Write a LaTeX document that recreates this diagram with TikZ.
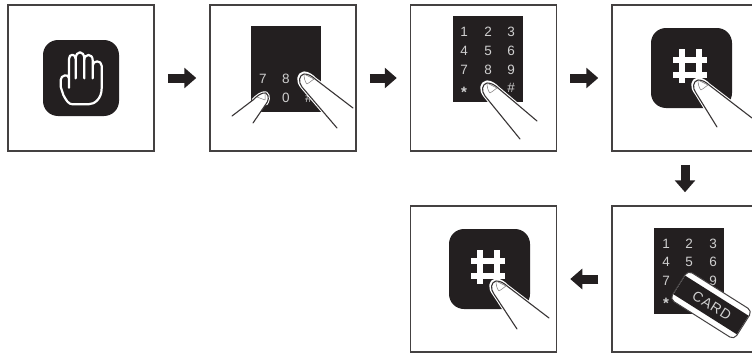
\documentclass[tikz,border=0pt]{standalone}
\usepackage{fontspec}
\setmainfont{Liberation Sans}
\usetikzlibrary{arrows.meta}
\definecolor{ink}{HTML}{231F20}
\definecolor{digit}{HTML}{CFCFCF}
\tikzset{
  x=1pt,y=-1pt,
  panel/.style={draw=ink!85,line width=1.5pt,minimum size=146pt,inner sep=0pt,fill=white},
  blockarrow/.style={draw=ink,line width=9pt,-{Triangle[length=12pt,width=20pt,fill=ink]},shorten <=13pt,shorten >=13pt},
  keydigit/.style={text=digit,font=\fontsize{13.5}{14}\selectfont,inner sep=0pt},
  keystar/.style={text=digit,font=\bfseries\fontsize{15}{15}\selectfont,inner sep=0pt},
  icon/.style={fill=ink,rounded corners=15pt},
  pad/.style={fill=ink},
  hashbar/.style={draw=white,line width=6pt},
  handline/.style={draw=white,line width=2.2pt,line join=round,line cap=round},
  fingerhalo/.style={draw=white,line width=3.2pt,line cap=round,line join=round},
  fingerline/.style={draw=ink!90,line width=1.1pt,line cap=round,line join=round},
}
\newcommand{\fingr}[6]{%
  \begin{scope}[shift={(#1,#2)}]
    \fill[white] (#5,#6) -- (1,11) .. controls (-4,5) and (-3,-2) .. (3,-3) .. controls (7,-3) and (11,0) .. (14,3) -- (#3,#4) -- cycle;
    \draw[fingerhalo] (#5,#6) -- (1,11) .. controls (-4,5) and (-3,-2) .. (3,-3) .. controls (7,-3) and (11,0) .. (14,3) -- (#3,#4);
    \draw[fingerline] (#5,#6) -- (1,11) .. controls (-3,6) and (-2,-1) .. (3,-2) .. controls (7,-2) and (11,0) .. (14,3) -- (#3,#4);
    \draw[ink!60,line width=.5pt,line join=round] (3,-2) -- (13,3) .. controls (10,5) and (8,7) .. (6,8) .. controls (4,6) and (3,2) .. (3,-2);
  \end{scope}}
\newcommand{\hashicon}[3]{%
  \begin{scope}[shift={(#1,#2)}]
    \fill[icon] (0,0) rectangle (81,80);
    \draw[hashbar] (31,21) -- (31,55) (48,21) -- (48,55) (22,32) -- (56,32) (22,47) -- (56,47);
  \end{scope}}
\begin{document}
\begin{tikzpicture}
\useasboundingbox (0,0) rectangle (752,356);
\clip (0,0) rectangle (752,356);
\node[panel] (p1) at (81,78) {};
\node[panel] (p2) at (283,78) {};
\node[panel] (p3) at (483.5,78) {};
\node[panel] (p4) at (685,78) {};
\node[panel] (p5) at (685,279) {};
\node[panel] (p6) at (483.5,279) {};
\draw[blockarrow] (p1.east) -- (p2.west);
\draw[blockarrow] (p2.east) -- (p3.west);
\draw[blockarrow] (p3.east) -- (p4.west);
\draw[blockarrow] (p4.south) -- (p5.north);
\draw[blockarrow] (p5.west) -- (p6.east);

% panel 1: hand
\fill[icon] (43,40) rectangle (119,116);
\begin{scope}[shift={(50,45)},x=.3333pt,y=-.3333pt]
  \draw[handline] (57,128) -- (57,42) .. controls (57,25) and (77,25) .. (77,42) -- (77,100)
    (77,42) .. controls (77,15) and (103,15) .. (103,42) -- (103,100)
    (103,45) .. controls (103,25) and (128,25) .. (128,45) -- (128,100)
    (128,62) .. controls (128,45) and (155,45) .. (155,62) -- (155,130) .. controls (155,160) and (135,178) .. (115,178) -- (68,178) .. controls (55,178) and (48,165) .. (40,150) -- (32,125) -- (32,105) .. controls (32,90) and (57,85) .. (57,100);
\end{scope}

% panel 2
\fill[pad] (251,26) rectangle (321,112);
\foreach \i/\t/\x/\y in {1/7/263/79,2/8/286/79,3/9/309/79,4/0/286/98,5/\#/309/98}
  \node[keydigit] (b\i) at (\x,\y) {\t};
\fingr{301}{76}{52}{32}{36}{52}
\begin{scope}
  \fill[white] (232,116) -- (253,100) .. controls (257,96) and (262,92) .. (266,93) .. controls (270,96) and (268,102) .. (266,104) -- (253,123) -- cycle;
  \draw[fingerhalo] (253,100) .. controls (257,96) and (262,92) .. (266,93) .. controls (270,96) and (268,102) .. (266,104);
  \draw[fingerline] (232,116) -- (253,100) .. controls (257,96) and (262,92) .. (266,93) .. controls (270,96) and (268,102) .. (266,104) -- (253,123);
  \draw[ink!60,line width=.5pt,line join=round] (257,97) -- (265,100) -- (265,94);
\end{scope}

% panel 3
\fill[pad] (453,16) rectangle (523,102);
\foreach \i/\t/\x/\y in {1/1/464/32,2/2/488/32,3/3/511/32,4/4/464/51,5/5/488/51,6/6/511/51,7/7/464/70,8/8/488/70,9/9/511/70,11/0/488/88,12/\#/511/88}
  \node[keydigit] (c\i) at (\x,\y) {\t};
\node[keystar] (c10) at (464,92) {*};
\fingr{484}{85}{53}{36}{36}{54}

% panel 4
\hashicon{651}{28}{}
\fingr{695}{82}{57}{36}{22}{45}

% panel 5
\fill[pad] (654,228) rectangle (724,314);
\foreach \i/\t/\x/\y in {1/1/666/244,2/2/689/244,3/3/713/244,4/4/666/262,5/5/689/262,6/6/713/262,7/7/666/281,8/8/689/281,9/9/713/281}
  \node[keydigit] (d\i) at (\x,\y) {\t};
\node[keystar] (d10) at (666,303) {*};
\begin{scope}[shift={(711,305)},rotate=-32.3]
  \fill[white,rounded corners=5pt] (-38,-17) rectangle (38,17);
  \fill[ink] (-37.5,-11) rectangle (37.5,11);
  \draw[ink!85,line width=1pt,rounded corners=5pt] (-38,-17) rectangle (38,17);
  \node[transform shape,text=digit,inner sep=0pt,font=\fontsize{14}{15}\selectfont\addfontfeature{LetterSpace=8}] (card) at (1,0) {CARD};
\end{scope}

% panel 6
\hashicon{449}{229}{}
\fingr{493}{283}{56}{35}{24}{46}
\end{tikzpicture}
\end{document}
